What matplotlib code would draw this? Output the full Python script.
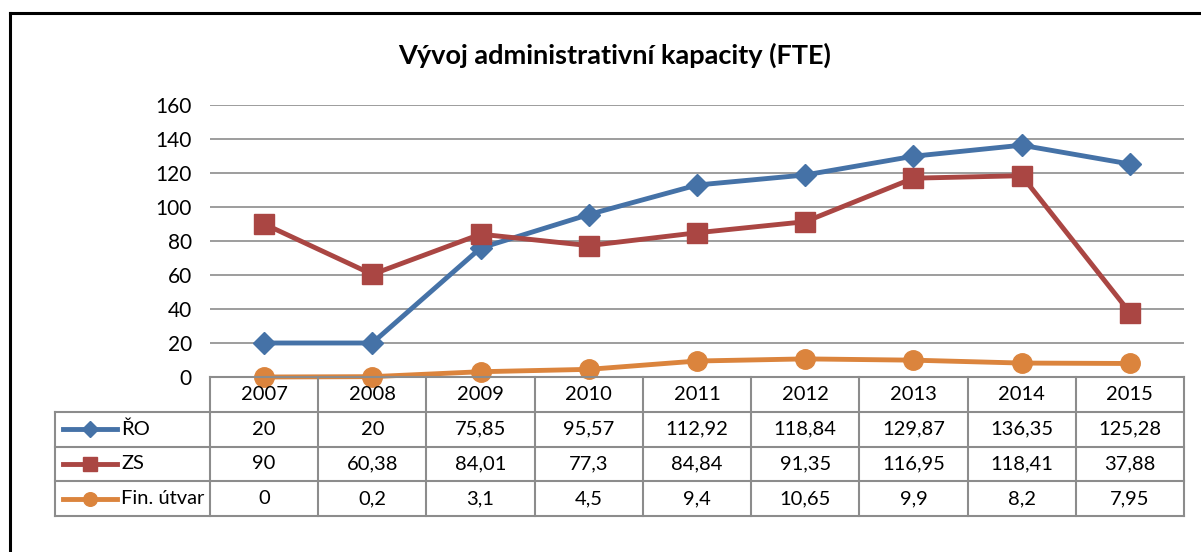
import matplotlib.pyplot as plt
from matplotlib.lines import Line2D

plt.rcParams['font.family'] = ['Lato', 'DejaVu Sans']

# data
years = ['2007', '2008', '2009', '2010', '2011', '2012', '2013', '2014', '2015']
ro = [20, 20, 75.85, 95.57, 112.92, 118.84, 129.87, 136.35, 125.28]
zs = [90, 60.38, 84.01, 77.3, 84.84, 91.35, 116.95, 118.41, 37.88]
fin = [0, 0.2, 3.1, 4.5, 9.4, 10.65, 9.9, 8.2, 7.95]
names = ['ŘO', 'ZS', 'Fin. útvar']
colours = ['#4572A7', '#AA4643', '#DB843D']
markers = ['D', 's', 'o']
msizes = [11, 14, 14]
series = [ro, zs, fin]

W, H = 1201, 552
fig = plt.figure(figsize=(W / 100, H / 100), dpi=100)

# outer frame (only top and left visible)
fig.add_artist(Line2D([10 / W, 10 / W], [0, 1 - 13 / H], color='black', lw=2.2))
fig.add_artist(Line2D([10 / W, 1], [1 - 13 / H, 1 - 13 / H], color='black', lw=2.2))

# main plot
left, right = 210, 1184
top, bottom = 105, 377
ax = fig.add_axes([left / W, 1 - bottom / H, (right - left) / W, (bottom - top) / H])
x = list(range(len(years)))
for s, n, c, m, ms in zip(series, names, colours, markers, msizes):
    ax.plot(x, s, color=c, lw=3.5, marker=m, markersize=ms, label=n, clip_on=False, zorder=3)
ax.set_xlim(-0.5, len(years) - 0.5)
ax.set_ylim(0, 160)
ax.set_yticks(range(0, 161, 20))
ax.yaxis.grid(True, color='#8c8c8c', lw=1.2)
ax.set_axisbelow(True)
ax.set_xticks([])
for sp in ax.spines.values():
    sp.set_visible(False)
ax.tick_params(axis='y', length=0, labelsize=15, pad=13)

fig.text(615 / W, 1 - 55 / H, 'Vývoj administrativní kapacity (FTE)',
         ha='center', va='center', fontsize=19.5, fontweight='bold')

# data table
tleft, tbottom = 55, 516
leg_w = (left - tleft) / ((right - left) / len(years))
tax = fig.add_axes([tleft / W, 1 - tbottom / H, (right - tleft) / W, (tbottom - bottom) / H])
tax.set_xlim(-0.5 - leg_w, len(years) - 0.5)
tax.set_ylim(4, 0)
tax.axis('off')
gc = '#8c8c8c'
for i in range(len(years) + 1):
    tax.plot([i - 0.5, i - 0.5], [0, 4], color=gc, lw=1.5, clip_on=False)
tax.plot([-0.5 - leg_w, -0.5 - leg_w], [1, 4], color=gc, lw=1.5, clip_on=False)
tax.plot([-0.5, len(years) - 0.5], [0, 0], color=gc, lw=1.5, clip_on=False)
for r in range(1, 5):
    tax.plot([-0.5 - leg_w, len(years) - 0.5], [r, r], color=gc, lw=1.5, clip_on=False)
for i, yr in enumerate(years):
    tax.text(i, 0.5, yr, ha='center', va='center', fontsize=14.5)
for r, (s, n, c, m, ms) in enumerate(zip(series, names, colours, markers, msizes), start=1):
    kx0 = -0.5 - leg_w + 0.07
    kx1 = kx0 + 0.5
    tax.plot([kx0, kx1], [r + 0.5, r + 0.5], color=c, lw=3.5, clip_on=False)
    tax.plot([(kx0 + kx1) / 2], [r + 0.5], color=c, marker=m, markersize=ms * 0.7, clip_on=False)
    tax.text(kx1 + 0.04, r + 0.5, n, ha='left', va='center', fontsize=14.5)
    for i, v in enumerate(s):
        tax.text(i, r + 0.5, f'{v:g}'.replace('.', ','), ha='center', va='center', fontsize=14.5)

fig.savefig('out.png', dpi=100, facecolor='white')
